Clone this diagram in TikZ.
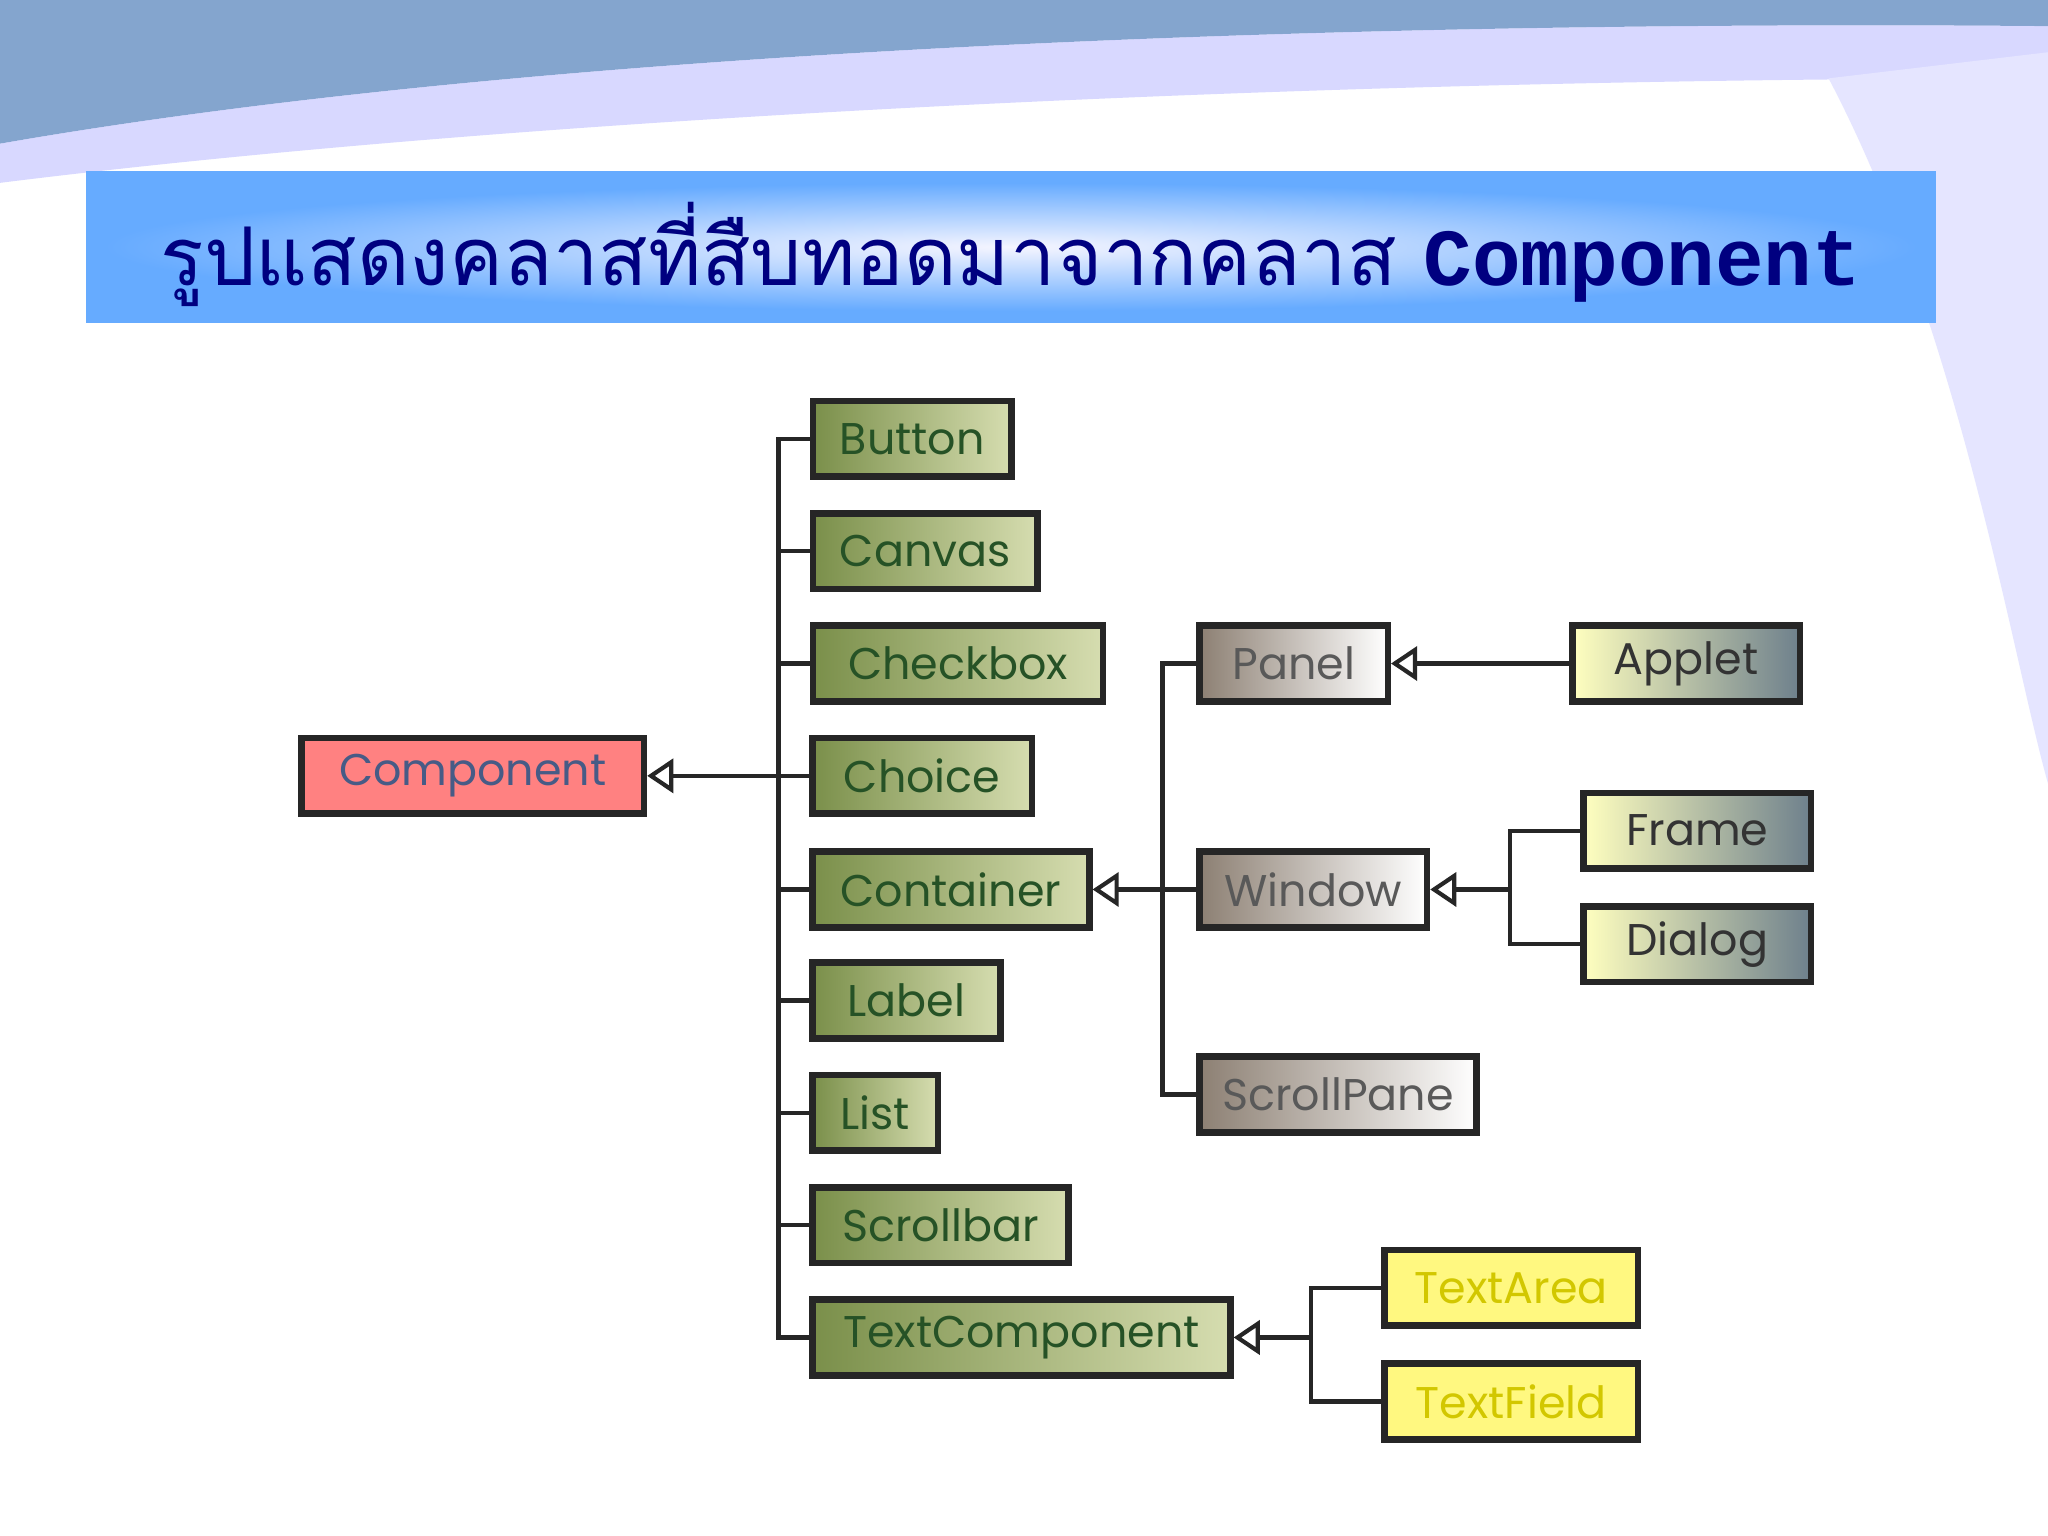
\documentclass[tikz,border=0pt]{standalone}
\usepackage{fontspec}
\setmainfont{Poppins}
\newfontfamily\thaifont[Script=Thai]{Loma}
\newfontfamily\monob{Liberation Mono}
\usetikzlibrary{arrows.meta}
\definecolor{olv}{HTML}{7A8F4A}
\definecolor{olvl}{HTML}{D6DDB0}
\definecolor{slat}{HTML}{6E808C}
\begin{document}
\begin{tikzpicture}[x=0.5pt,y=-0.5pt,
  box/.style={draw=black!85, line width=2.5pt, inner sep=0pt, font=\fontsize{17}{17}\selectfont},
  grn/.style={box, left color=olv, right color=olvl, text=green!20!black!85},
  gry/.style={box, left color=gray!80!brown, right color=white, text=gray!70!black},
  sla/.style={box, left color=yellow!25, right color=slat, text=black!80},
  yel/.style={box, fill=yellow!50, text=yellow!60!olive},
  ln/.style={line width=1.6pt, black!85},
  ar/.style={ln, -{Triangle[open, length=10pt, width=13pt, line width=1.6pt]}}]
\useasboundingbox (0,0) rectangle (1568,1176);
\fill[white] (0,0) rectangle (1568,1176);
% background band
\fill[blue!55!cyan!60!black!60, opacity=0.8] (0,0) -- (1568,0) -- (1568,20) .. controls (1000,15) and (400,40) .. (0,110) -- cycle;
\fill[blue!30, opacity=0.5] (0,110) .. controls (400,40) and (1000,15) .. (1568,20) -- (1568,60) .. controls (1000,60) and (400,90) .. (0,140) -- cycle;
\fill[blue!10] (1400,60) .. controls (1500,250) and (1540,500) .. (1568,600) -- (1568,40) -- cycle;
% title
\fill[blue!55!cyan!60] (66,131) rectangle (1482,247);
\shade[inner color=white!80!blue!20, outer color=blue!55!cyan!60] (80,140) rectangle (1468,238);
\node[text=blue!50!black, font=\fontsize{31}{31}\selectfont] (title) at (774,195) {\thaifont รูปแสดงคลาสที่สืบทอดมาจากคลาส \monob\bfseries Component};
% nodes
\node[box, fill=red!40!pink!90, text=cyan!40!blue!60!black, minimum width=131pt, minimum height=29pt] (comp) at (362,594) {Component};
\node[grn, minimum width=76pt, minimum height=29pt] (button) at (698.5,336) {Button};
\node[grn, minimum width=86pt, minimum height=29pt] (canvas) at (708.5,422) {Canvas};
\node[grn, minimum width=111pt, minimum height=29pt] (check) at (733.5,508) {Checkbox};
\node[grn, minimum width=84pt, minimum height=29pt] (choice) at (706,594) {Choice};
\node[grn, minimum width=106pt, minimum height=29pt] (cont) at (728,681) {Container};
\node[grn, minimum width=72pt, minimum height=29pt] (label) at (694,766) {Label};
\node[grn, minimum width=48pt, minimum height=29pt] (list) at (670,852) {List};
\node[grn, minimum width=98pt, minimum height=29pt] (sbar) at (720,938) {Scrollbar};
\node[grn, minimum width=160pt, minimum height=29pt] (tcomp) at (782,1024) {TextComponent};
\node[gry, minimum width=72pt, minimum height=29pt] (panel) at (990.5,508) {Panel};
\node[gry, minimum width=87pt, minimum height=29pt] (window) at (1005.5,681) {Window};
\node[gry, minimum width=106pt, minimum height=29pt] (spane) at (1024.5,838) {ScrollPane};
\node[sla, minimum width=87pt, minimum height=29pt] (applet) at (1291,508) {Applet};
\node[sla, minimum width=87pt, minimum height=29pt] (frame) at (1299.5,636) {Frame};
\node[sla, minimum width=87pt, minimum height=29pt] (dialog) at (1299.5,723) {Dialog};
\node[yel, minimum width=97pt, minimum height=29pt] (tarea) at (1157,986) {TextArea};
\node[yel, minimum width=97pt, minimum height=29pt] (tfield) at (1157,1073) {TextField};
% connectors
\coordinate (t1) at (596,594);
\draw[ln] (button.west) -| (596,594) |- (tcomp.west);
\foreach \n in {canvas,check,choice,cont,label,list,sbar} \draw[ln] (\n.west) -- (596,0 |- \n.west);
\draw[ar] (t1) -- (comp.east);
\coordinate (t2) at (890,681);
\draw[ln] (panel.west) -| (890,681) |- (spane.west);
\draw[ln] (window.west) -- (t2);
\draw[ar] (t2) -- (cont.east);
\draw[ar] (applet.west) -- (panel.east);
\coordinate (t3) at (1156,681);
\draw[ln] (frame.west) -| (t3) |- (dialog.west);
\draw[ar] (t3) -- (window.east);
\coordinate (t4) at (1004,1024);
\draw[ln] (tarea.west) -| (t4) |- (tfield.west);
\draw[ar] (t4) -- (tcomp.east);
\end{tikzpicture}
\end{document}
